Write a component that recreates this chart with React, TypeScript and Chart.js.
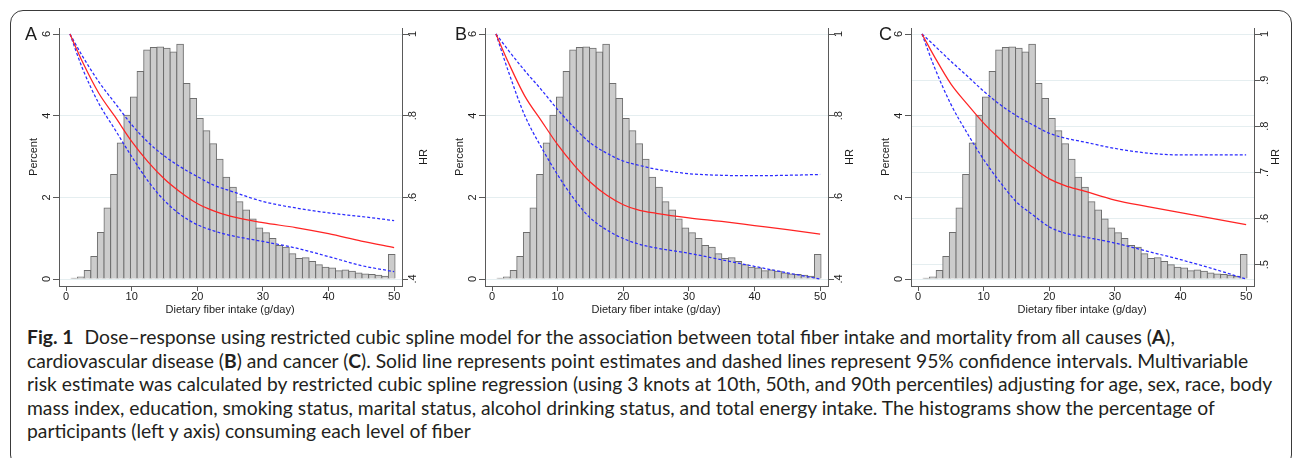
import React, { useEffect, useRef } from "react";
import { Chart, registerables } from "chart.js";

Chart.register(...registerables);

// ---------------- data ----------------
const binStart = 0.75;
const binWidth = 1.008;
const percentBars = [
  0.02, 0.05, 0.21, 0.55, 1.14, 1.74, 2.56, 3.33, 4.01, 4.46,
  5.08, 5.61, 5.67, 5.68, 5.65, 5.56, 5.75, 4.79, 4.42, 3.93,
  3.63, 3.31, 2.93, 2.49, 2.25, 1.89, 1.69, 1.47, 1.25, 1.13,
  0.99, 0.82, 0.78, 0.62, 0.5, 0.52, 0.43, 0.35, 0.29, 0.27,
  0.2, 0.22, 0.19, 0.15, 0.12, 0.11, 0.09, 0.07, 0.6,
];

const curveX = [0.6, 2.5, 5, 7.5, 10, 12.5, 15, 17.5, 20, 22.5, 25, 30, 35, 40, 45, 50];

const hrA = [1.0, 0.932, 0.855, 0.797, 0.737, 0.687, 0.645, 0.612, 0.585, 0.567, 0.554, 0.538, 0.526, 0.511, 0.493, 0.477];
const upA = [1.0, 0.946, 0.883, 0.83, 0.778, 0.735, 0.701, 0.674, 0.651, 0.63, 0.616, 0.59, 0.574, 0.562, 0.553, 0.543];
const lowA = [1.0, 0.916, 0.83, 0.765, 0.7, 0.64, 0.592, 0.557, 0.533, 0.518, 0.507, 0.492, 0.476, 0.455, 0.433, 0.418];

const hrB = [1.0, 0.93, 0.848, 0.788, 0.729, 0.679, 0.637, 0.605, 0.582, 0.568, 0.561, 0.55, 0.541, 0.531, 0.521, 0.51];
const upB = [1.0, 0.96, 0.91, 0.864, 0.815, 0.771, 0.733, 0.708, 0.689, 0.678, 0.669, 0.658, 0.654, 0.653, 0.654, 0.656];
const lowB = [1.0, 0.908, 0.8, 0.723, 0.655, 0.596, 0.549, 0.52, 0.499, 0.485, 0.476, 0.463, 0.447, 0.431, 0.415, 0.4];

const hrC = [1.0, 0.951, 0.892, 0.848, 0.807, 0.772, 0.738, 0.711, 0.686, 0.671, 0.661, 0.64, 0.626, 0.613, 0.6, 0.587];
const upC = [1.0, 0.975, 0.941, 0.909, 0.876, 0.847, 0.823, 0.803, 0.785, 0.774, 0.767, 0.752, 0.742, 0.738, 0.738, 0.738];
const lowC = [1.0, 0.928, 0.848, 0.785, 0.728, 0.679, 0.636, 0.608, 0.582, 0.568, 0.561, 0.547, 0.529, 0.511, 0.491, 0.469];

const xTicks = [0, 10, 20, 30, 40, 50];
const pctTicks = [0, 2, 4, 6];
const hrTicksAB = [0.4, 0.6, 0.8, 1];
const hrTicksC = [0.5, 0.6, 0.7, 0.8, 0.9, 1];
const hrAtZeroAB = 0.4;
const hrAtZeroC = 0.469;

const xTitle = "Dietary fiber intake (g/day)";
const yTitle = "Percent";
const y2Title = "HR";

// ---------------- layout constants ----------------
const PCT_MIN = -0.171;
const PCT_MAX = 6.147;
const X_MIN = -1.07;
const X_MAX = 51.2;
const AXIS_FONT = '"Liberation Sans", Arial, Helvetica, sans-serif';
const TEXT = "#1c1c1c";
const AXIS = "#5a5a5a";
const GRID = "#e5eef0";

const fmtHR = (v: number) => (v === 1 ? "1" : v.toFixed(1).replace(/^0/, ""));

type PanelProps = {
  letter: string;
  hr: number[];
  low: number[];
  up: number[];
  hrTicks: number[];
  hrAtZero: number;
  left: number;
  letterDx: number;
};

function Panel(p: PanelProps) {
  const ref = useRef<HTMLCanvasElement>(null);

  useEffect(() => {
    const span = 1 - p.hrAtZero;
    const y1min = p.hrAtZero + (PCT_MIN / 6) * span;
    const y1max = p.hrAtZero + (PCT_MAX / 6) * span;

    const textPlugin = {
      id: "axisText",
      afterDraw(chart: any) {
        const ctx = chart.ctx as CanvasRenderingContext2D;
        const ca = chart.chartArea;
        const xs = chart.scales.x;
        const ys = chart.scales.y;
        const y1 = chart.scales.y1;
        const mid = (ca.top + ca.bottom) / 2;
        ctx.save();
        ctx.fillStyle = TEXT;
        ctx.font = `11px ${AXIS_FONT}`;
        ctx.textAlign = "center";
        ctx.textBaseline = "middle";
        xTicks.forEach((v) => ctx.fillText(String(v), xs.getPixelForValue(v), ca.bottom + 11));
        ctx.fillText(xTitle, (xs.getPixelForValue(0) + xs.getPixelForValue(50)) / 2, ca.bottom + 24);
        const rot = (t: string, x: number, y: number) => {
          ctx.save();
          ctx.translate(x, y);
          ctx.rotate(-Math.PI / 2);
          ctx.fillText(t, 0, 0);
          ctx.restore();
        };
        pctTicks.forEach((v) => rot(String(v), ca.left - 12, ys.getPixelForValue(v)));
        rot(yTitle, ca.left - 25, mid);
        p.hrTicks.forEach((v) => rot(fmtHR(v), ca.right + 11, y1.getPixelForValue(v)));
        rot(y2Title, ca.right + 22, mid);
        ctx.font = `18px ${AXIS_FONT}`;
        ctx.textAlign = "left";
        ctx.textBaseline = "alphabetic";
        ctx.fillText(p.letter, ca.left - p.letterDx, ca.top + 12);
        ctx.restore();
      },
    };

    const line = (vals: number[], dashed: boolean) => ({
      type: "line" as const,
      data: curveX.map((x, i) => ({ x, y: vals[i] })),
      yAxisID: "y1",
      borderColor: dashed ? "#2b2bff" : "#ff2424",
      borderWidth: 1.25,
      borderDash: dashed ? [3, 2] : [],
      pointRadius: 0,
      cubicInterpolationMode: "monotone" as const,
      fill: false,
      order: 0,
    });

    const chart = new Chart(ref.current as HTMLCanvasElement, {
      type: "bar",
      data: {
        datasets: [
          line(p.hr, false) as any,
          line(p.up, true) as any,
          line(p.low, true) as any,
          {
            type: "bar",
            data: percentBars.map((v, i) => ({ x: binStart + (i + 0.5) * binWidth, y: v })),
            yAxisID: "y",
            backgroundColor: "#cccccc",
            borderColor: "#6e6e6e",
            borderWidth: 1,
            barPercentage: 1,
            categoryPercentage: 1,
            inflateAmount: 0.5,
            order: 10,
          } as any,
        ],
      },
      options: {
        animation: false,
        responsive: false,
        maintainAspectRatio: false,
        devicePixelRatio: 1,
        layout: { padding: { top: 14, left: 0, right: 0, bottom: 0 } },
        plugins: { legend: { display: false }, tooltip: { enabled: false } },
        events: [],
        scales: {
          x: {
            type: "linear",
            min: X_MIN,
            max: X_MAX,
            offset: false,
            afterBuildTicks: (s: any) => {
              s.ticks = xTicks.map((v) => ({ value: v }));
            },
            afterFit: (s: any) => {
              s.height = 34;
            },
            ticks: { display: false },
            grid: { drawOnChartArea: false, drawTicks: true, tickLength: 5, tickColor: AXIS, offset: false },
            border: { display: true, color: AXIS, width: 1 },
          },
          y: {
            type: "linear",
            position: "left",
            min: PCT_MIN,
            max: PCT_MAX,
            afterBuildTicks: (s: any) => {
              s.ticks = pctTicks.map((v) => ({ value: v }));
            },
            afterFit: (s: any) => {
              s.width = 45;
            },
            ticks: { display: false },
            grid: { color: GRID, tickColor: AXIS, tickLength: 6, drawTicks: true },
            border: { display: true, color: AXIS, width: 1 },
          },
          y1: {
            type: "linear",
            position: "right",
            min: y1min,
            max: y1max,
            afterBuildTicks: (s: any) => {
              s.ticks = p.hrTicks.map((v) => ({ value: v }));
            },
            afterFit: (s: any) => {
              s.width = 40;
            },
            ticks: { display: false },
            grid: { color: GRID, tickColor: AXIS, tickLength: 6, drawTicks: true, drawOnChartArea: true },
            border: { display: true, color: AXIS, width: 1 },
          },
        },
      } as any,
      plugins: [textPlugin],
    });
    return () => chart.destroy();
  }, []);

  return (
    <canvas
      ref={ref}
      width={428}
      height={306}
      style={{ position: "absolute", left: p.left - 45, top: 14, width: 428, height: 306, display: "block" }}
    />
  );
}

const captionLines: React.ReactNode[] = [
  <>
    <b style={{ fontWeight: 700, marginRight: 11 }}>Fig. 1</b>Dose–response using restricted cubic spline model for the
    association between total fiber intake and mortality from all causes (<b>A</b>),
  </>,
  <>
    cardiovascular disease (<b>B</b>) and cancer (<b>C</b>). Solid line represents point estimates and dashed lines
    represent 95% confidence intervals. Multivariable
  </>,
  <>
    risk estimate was calculated by restricted cubic spline regression (using 3 knots at 10th, 50th, and 90th
    percentiles) adjusting for age, sex, race, body
  </>,
  <>
    mass index, education, smoking status, marital status, alcohol drinking status, and total energy intake. The
    histograms show the percentage of
  </>,
  <>participants (left y axis) consuming each level of fiber</>,
];

export default function App() {
  return (
    <div
      style={{
        position: "absolute",
        left: 0,
        top: 0,
        width: 1295,
        height: 458,
        overflow: "hidden",
        background: "#ffffff",
      }}
    >
      <div
        style={{
          position: "absolute",
          left: 10,
          top: 10,
          width: 1282,
          height: 458,
          border: "1.3px solid #3a3a3a",
          borderRadius: 13,
          boxSizing: "border-box",
        }}
      />
      <Panel letter="A" hr={hrA} low={lowA} up={upA} hrTicks={hrTicksAB} hrAtZero={hrAtZeroAB} left={59} letterDx={34} />
      <Panel letter="B" hr={hrB} low={lowB} up={upB} hrTicks={hrTicksAB} hrAtZero={hrAtZeroAB} left={485} letterDx={30} />
      <Panel letter="C" hr={hrC} low={lowC} up={upC} hrTicks={hrTicksC} hrAtZero={hrAtZeroC} left={911} letterDx={32} />
      <div
        style={{
          position: "absolute",
          left: 27,
          top: 325,
          fontFamily: "Lato, 'Open Sans', sans-serif",
          fontSize: 19.3,
          lineHeight: "23.5px",
          color: "#231f20",
          whiteSpace: "nowrap",
        }}
      >
        {captionLines.map((l, i) => (
          <div key={i}>{l}</div>
        ))}
      </div>
    </div>
  );
}
